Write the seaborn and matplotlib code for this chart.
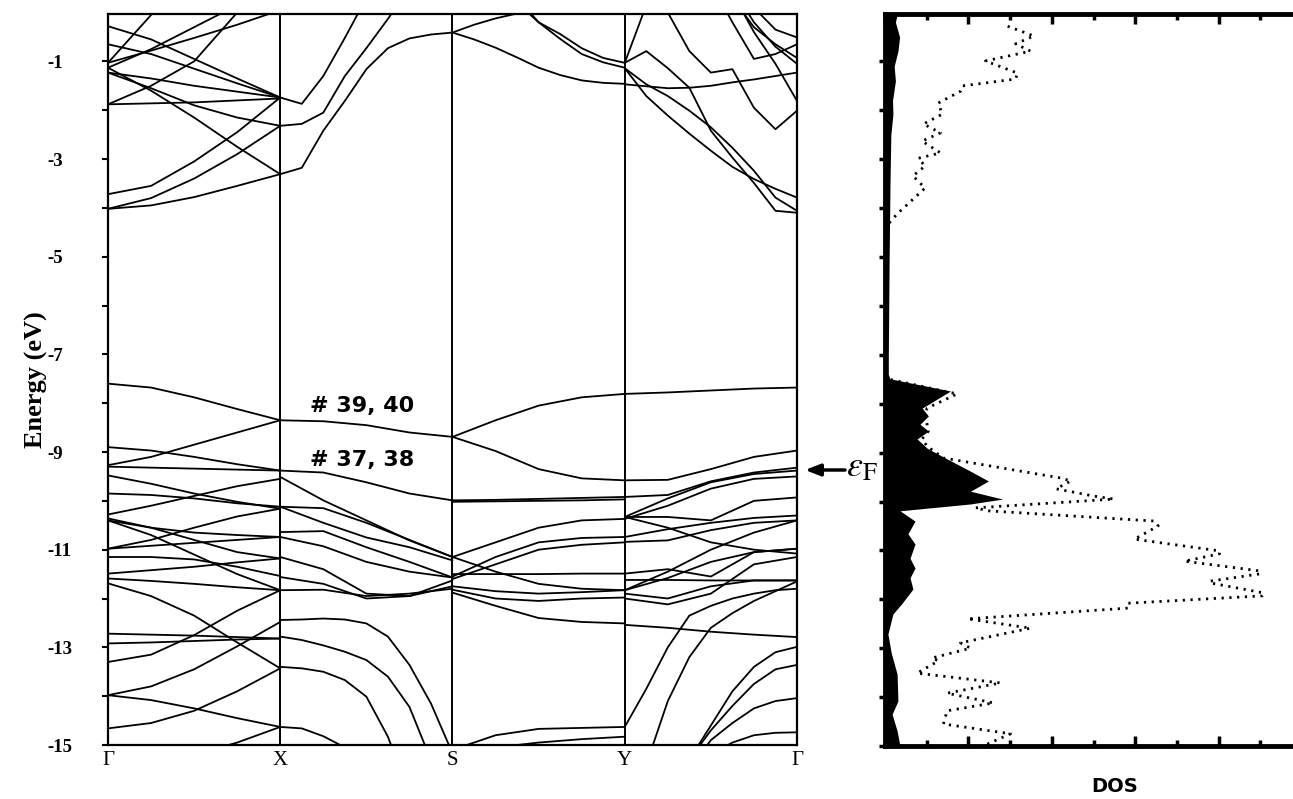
import numpy as np
import pandas as pd
import matplotlib
matplotlib.use("Agg")
import matplotlib.pyplot as plt
import seaborn as sns

sns.set_style("ticks")
plt.rcParams["font.family"] = ["Liberation Serif", "DejaVu Sans"]
plt.rcParams["mathtext.fontset"] = "stix"
plt.rcParams.update({"axes.edgecolor": "black", "xtick.color": "black",
                     "ytick.color": "black", "text.color": "black",
                     "axes.labelcolor": "black"})

# high-symmetry points along the k path
kpoint_labels = ["Γ", "X", "S", "Y", "Γ"]

# band energies (eV); each list is one curve sampled evenly along its segment
GX_bands = [
    # upper manifold
    [-0.28, -0.55, -0.95, -1.35, -1.74],
    [-0.65, -0.85, -1.15, -1.45, -1.74],
    [-1.13, -1.60, -2.15, -2.75, -3.31],
    [-1.23, -1.35, -1.50, -1.62, -1.74],
    [-1.23, -1.55, -1.90, -2.15, -2.32],
    [-1.88, -1.86, -1.84, -1.80, -1.76],
    [-3.72, -3.55, -3.05, -2.45, -1.74],
    [-4.02, -3.80, -3.40, -2.90, -2.32],
    [-4.02, -3.95, -3.78, -3.55, -3.31],
    [-1.88, -1.50, -1.00, 0.00, 1.00],
    [-1.03, -0.78, -0.52, -0.25, 0.05],
    [-1.13, -0.75, -0.30, 0.15, 0.60],
    [-1.03, -0.05, 0.90, 1.90, 2.90],
    # lower manifold
    [-7.60, -7.68, -7.88, -8.12, -8.35],
    [-9.27, -9.10, -8.85, -8.60, -8.35],
    [-8.90, -8.97, -9.10, -9.25, -9.38],
    [-9.30, -9.32, -9.34, -9.36, -9.38],
    [-9.48, -9.65, -9.85, -10.02, -10.16],
    [-9.85, -9.88, -9.95, -10.05, -10.12],
    [-10.28, -10.10, -9.90, -9.70, -9.55],
    [-10.36, -10.55, -10.80, -11.05, -11.18],
    [-10.40, -10.55, -10.65, -10.70, -10.74],
    [-10.40, -10.70, -11.10, -11.50, -11.83],
    [-10.98, -10.80, -10.55, -10.32, -10.16],
    [-10.98, -10.92, -10.86, -10.80, -10.74],
    [-11.15, -11.15, -11.20, -11.35, -11.54],
    [-11.49, -11.42, -11.35, -11.26, -11.18],
    [-11.59, -11.64, -11.70, -11.77, -11.83],
    [-11.69, -11.95, -12.35, -12.90, -13.43],
    [-12.72, -12.74, -12.76, -12.79, -12.82],
    [-12.92, -12.90, -12.87, -12.84, -12.82],
    [-13.30, -13.15, -12.75, -12.25, -11.83],
    [-13.98, -13.80, -13.45, -12.98, -12.48],
    [-13.98, -14.08, -14.25, -14.45, -14.63],
    [-14.66, -14.55, -14.30, -13.90, -13.43],
    [-15.60, -15.40, -15.20, -14.95, -14.63],
]

XS_bands = [
    [-1.74, -1.87, -1.30, -0.52, 0.30, 1.00, 1.50, 2.00, 2.50],
    [-2.32, -2.28, -2.05, -1.30, -0.73, -0.13, 0.50, 1.00, 1.50],
    [-3.31, -3.18, -2.42, -1.81, -1.16, -0.73, -0.53, -0.45, -0.41],
    [-8.35, -8.37, -8.45, -8.60, -8.69],
    [-9.38, -9.42, -9.62, -9.85, -9.99],
    [-9.51, -9.99, -10.40, -10.81, -11.15],
    [-10.12, -10.15, -10.45, -10.80, -11.15],
    [-10.12, -10.45, -10.75, -10.95, -11.22],
    [-10.64, -10.62, -10.95, -11.25, -11.57],
    [-10.74, -10.93, -11.25, -11.45, -11.57],
    [-11.15, -11.40, -11.90, -11.95, -11.63],
    [-11.56, -11.70, -12.00, -11.95, -11.75],
    [-11.83, -11.82, -11.95, -11.90, -11.80],
    [-12.44, -12.43, -12.41, -12.43, -12.51, -12.78, -13.36, -14.15, -15.17],
    [-12.78, -12.85, -12.96, -13.09, -13.26, -13.60, -14.22, -15.31, -16.50],
    [-13.40, -13.43, -13.50, -13.67, -14.01, -14.83, -16.00, -17.00, -18.00],
    [-14.63, -14.66, -14.82, -15.05, -15.40, -15.80, -16.20, -16.60, -17.00],
]

SY_bands = [
    [-0.41, -0.25, -0.12, -0.02, 0.15, 0.40, 0.70, 1.00, 1.30],
    [-0.41, -0.55, -0.72, -0.92, -1.13, -1.28, -1.39, -1.44, -1.46],
    [1.40, 1.00, 0.60, 0.20, -0.20, -0.44, -0.73, -0.93, -1.03],
    [1.50, 1.10, 0.70, 0.30, -0.20, -0.54, -0.85, -1.02, -1.13],
    [-8.69, -8.35, -8.05, -7.88, -7.81],
    [-8.69, -8.98, -9.35, -9.54, -9.58],
    [-9.99, -9.98, -9.96, -9.94, -9.92],
    [-10.02, -10.01, -10.00, -9.99, -9.97],
    [-11.15, -10.85, -10.55, -10.40, -10.37],
    [-11.55, -11.15, -10.85, -10.76, -10.74],
    [-11.60, -11.30, -11.00, -10.90, -10.85],
    [-11.15, -11.45, -11.70, -11.80, -11.83],
    [-11.50, -11.50, -11.50, -11.49, -11.49],
    [-11.75, -11.85, -11.90, -11.87, -11.83],
    [-11.82, -12.00, -12.05, -12.00, -11.98],
    [-11.88, -12.15, -12.40, -12.48, -12.51],
    [-15.10, -14.80, -14.67, -14.65, -14.63],
    [-15.30, -15.05, -14.95, -14.88, -14.83],
]

YG_bands = [
    [-1.47, -1.51, -1.55, -1.54, -1.50, -1.43, -1.37, -1.30, -1.23],
    [-1.14, -1.71, -2.11, -2.48, -2.83, -3.16, -3.41, -3.61, -3.79],
    [-1.14, -1.47, -1.71, -2.01, -2.35, -2.77, -3.24, -3.79, -4.06],
    [-1.03, -0.79, -1.14, -1.54, -2.42, -2.97, -3.49, -4.06, -4.10],
    [-1.03, 0.15, 1.30, 2.50, 3.70, 4.90, 6.10, 7.30, 8.50],
    [1.20, 0.60, 0.00, -0.79, -1.23, -1.16, -1.95, -2.39, -2.01],
    [2.00, 1.80, 1.50, 1.00, 0.60, -0.20, -0.95, -0.85, -0.65],
    [3.00, 2.50, 2.00, 1.50, 1.00, 0.30, -0.30, -0.65, -0.93],
    [3.00, 2.50, 2.00, 1.50, 1.00, 0.50, -0.20, -0.70, -1.05],
    [3.00, 2.50, 2.00, 1.50, 1.00, 0.60, 0.10, -0.35, -0.51],
    [3.00, 2.50, 2.00, 1.50, 1.00, 0.40, -0.40, -1.05, -1.81],
    [-7.81, -7.78, -7.74, -7.70, -7.68],
    [-9.58, -9.57, -9.35, -9.10, -8.97],
    [-9.92, -9.88, -9.60, -9.42, -9.32],
    [-10.33, -9.95, -9.62, -9.45, -9.38],
    [-10.37, -10.10, -9.75, -9.55, -9.50],
    [-10.33, -10.55, -10.85, -11.00, -11.08],
    [-10.33, -10.33, -10.40, -10.00, -9.93],
    [-10.74, -10.58, -10.45, -10.35, -10.30],
    [-10.84, -10.81, -10.60, -10.45, -10.40],
    [-11.49, -11.40, -11.55, -11.05, -10.98],
    [-11.83, -11.45, -11.00, -10.65, -10.40],
    [-11.83, -11.58, -11.25, -11.05, -10.98],
    [-12.00, -12.12, -11.90, -11.30, -11.15],
    [-11.90, -12.00, -11.75, -11.63, -11.63],
    [-11.62, -11.62, -11.63, -11.63, -11.63],
    [-12.54, -12.60, -12.68, -12.74, -12.79],
    [-14.63, -13.85, -13.00, -12.35, -12.15, -12.00, -11.90, -11.83, -11.80],
    [-16.20, -15.40, -14.10, -13.20, -12.60, -12.30, -12.05, -11.85, -11.65],
    [-17.00, -16.50, -16.00, -15.30, -14.60, -13.90, -13.40, -13.10, -12.99],
    [-17.00, -16.50, -16.00, -15.30, -14.70, -14.20, -13.75, -13.45, -13.36],
    [-17.00, -16.50, -16.00, -15.50, -14.90, -14.55, -14.25, -14.10, -14.04],
    [-17.00, -16.50, -16.00, -15.50, -15.20, -14.95, -14.80, -14.75, -14.74],
]

# total DOS (dotted) and projected DOS (filled), energies in eV
tdos_E = [-0.28, -0.48, -0.64, -0.79, -0.99, -1.24, -1.36, -1.50, -1.61, -1.85,
          -2.08, -2.28, -2.46, -2.63, -2.87, -2.98, -3.14, -3.34, -3.59, -4.12,
          -4.40, -7.40, -7.50, -7.80, -8.09, -8.21, -8.56, -8.72, -8.87, -9.11,
          -9.52, -9.58, -9.74, -9.89, -9.95, -10.13, -10.19, -10.40, -10.50, -10.77,
          -11.01, -11.07, -11.22, -11.42, -11.48, -11.63, -11.67, -11.87, -11.93, -12.08,
          -12.18, -12.40, -12.59, -12.89, -13.00, -13.20, -13.26, -13.51, -13.71, -13.92,
          -14.12, -14.28, -14.55, -14.75, -15.00]
tdos = [2.94, 3.57, 3.13, 3.49, 2.41, 3.18, 3.13, 1.86, 1.81, 1.28,
        1.37, 0.92, 1.33, 0.89, 1.33, 0.80, 0.96, 0.67, 0.96, 0.29,
        0.00, 0.00, 0.10, 1.73, 1.01, 0.96, 1.04, 0.89, 1.01, 1.40,
        4.22, 4.46, 4.10, 5.01, 5.49, 2.17, 2.46, 6.46, 6.55, 5.98,
        8.02, 8.02, 7.18, 8.99, 8.99, 7.78, 7.83, 9.08, 9.04, 5.83,
        5.83, 1.98, 3.49, 1.81, 2.05, 1.13, 1.28, 0.77, 2.77, 1.49,
        2.60, 1.49, 1.40, 3.01, 2.35]

pdos_E = [0.00, -0.20, -0.50, -0.79, -1.10, -1.40, -1.80, -2.08, -2.50, -3.50,
          -5.00, -7.00, -7.40, -7.49, -7.74, -8.09, -8.25, -8.42, -8.56, -8.72,
          -8.91, -9.13, -9.38, -9.58, -9.79, -9.95, -10.05, -10.19, -10.40, -10.66,
          -10.87, -11.16, -11.36, -11.56, -11.79, -12.08, -12.30, -12.71, -13.10, -13.53,
          -14.08, -14.35, -14.69, -15.00]
pdos = [0.30, 0.25, 0.35, 0.31, 0.22, 0.25, 0.18, 0.19, 0.14, 0.12,
        0.10, 0.08, 0.08, 0.12, 1.57, 0.89, 1.04, 0.84, 1.04, 0.77,
        1.01, 1.49, 2.05, 2.48, 2.05, 2.82, 2.05, 0.36, 0.72, 0.55,
        0.72, 0.60, 0.72, 0.60, 0.67, 0.41, 0.19, 0.07, 0.15, 0.29,
        0.31, 0.17, 0.29, 0.36]

fermi_level = -9.38
energy_ticks = list(range(-15, 0))
energy_labels = [str(t) if t % 2 else "" for t in energy_ticks]

# long-form table of all band curves
rows = []
for seg, bands in enumerate([GX_bands, XS_bands, SY_bands, YG_bands]):
    for i, e in enumerate(bands):
        ks = seg + np.linspace(0, 1, len(e))
        for k, en in zip(ks, e):
            rows.append((k, en, f"{seg}_{i}"))
bands_df = pd.DataFrame(rows, columns=["k", "E", "band"])

W, H = 1293, 799
fig = plt.figure(figsize=(W / 100, H / 100), dpi=100)
ax = fig.add_axes([108 / W, (H - 745) / H, 689 / W, 731 / H])
ax2 = fig.add_axes([885 / W, (H - 746) / H, 415 / W, 732 / H])

# ---- band structure
sns.lineplot(data=bands_df, x="k", y="E", units="band", estimator=None, sort=False,
             color="black", linewidth=1.3, ax=ax)
for k in [1, 2, 3]:
    ax.axvline(k, color="black", lw=1.4)
ax.set_xlim(0, 4)
ax.set_ylim(-15, -0.03)
ax.set_xticks(range(5))
ax.set_xticklabels(kpoint_labels, fontsize=15)
ax.tick_params(axis="x", length=0, pad=4)
ax.set_yticks(energy_ticks)
ax.set_yticklabels(energy_labels, fontsize=13.5, fontweight="bold")
ax.tick_params(axis="y", direction="out", length=4.5, width=1.5, pad=39)
for t in ax.get_yticklabels():
    t.set_horizontalalignment("left")
for s in ax.spines.values():
    s.set_linewidth(1.6)
ax.set_xlabel("")
ax.set_ylabel("Energy (eV)", fontsize=19, fontweight="bold")
ax.yaxis.set_label_coords(-0.087, 0.5)

ax.text(1.17, -8.05, "# 39, 40", fontsize=16, fontweight="bold",
        family="DejaVu Sans", va="center")
ax.text(1.17, -9.17, "# 37, 38", fontsize=16, fontweight="bold",
        family="DejaVu Sans", va="center")

ax.annotate("", xy=(805 / W, 1 - 470 / H), xytext=(845 / W, 1 - 470 / H),
            xycoords="figure fraction", textcoords="figure fraction",
            arrowprops=dict(arrowstyle="-|>,head_length=0.9,head_width=0.35",
                            color="black", lw=2.5, shrinkA=0, shrinkB=0))
fig.text(846 / W, 1 - 468 / H, r"$\varepsilon_{\mathrm{F}}$", fontsize=26, va="center", ha="left")

# ---- density of states
ax2.fill_betweenx(pdos_E, 0, pdos, color="black", lw=0)
sns.lineplot(x=tdos, y=tdos_E, orient="y", sort=False, estimator=None, ax=ax2,
             color="black", lw=2.0, linestyle=(0, (0.8, 2.0)))
ax2.set_xlim(0, 9.95)
ax2.set_ylim(-15, -0.03)
ax2.set_yticks(energy_ticks)
ax2.set_yticklabels([])
ax2.tick_params(axis="y", direction="out", length=4, width=2.5)
ax2.set_xticks([2, 4, 6, 8])
ax2.set_xticks([1, 3, 5, 7, 9], minor=True)
ax2.tick_params(axis="x", which="both", direction="in", top=True, bottom=True,
                labelbottom=False, width=2.5)
ax2.tick_params(axis="x", which="major", length=7)
ax2.tick_params(axis="x", which="minor", length=4)
ax2.spines["right"].set_visible(False)
for side in ["left", "top", "bottom"]:
    ax2.spines[side].set_linewidth(3.5)
ax2.set_xlabel("")
ax2.set_ylabel("")

fig.text(1115 / W, 1 - 787 / H, "DOS", fontsize=14, fontweight="bold",
         family="DejaVu Sans", ha="center", va="center")

fig.savefig("out.png", dpi=100)
